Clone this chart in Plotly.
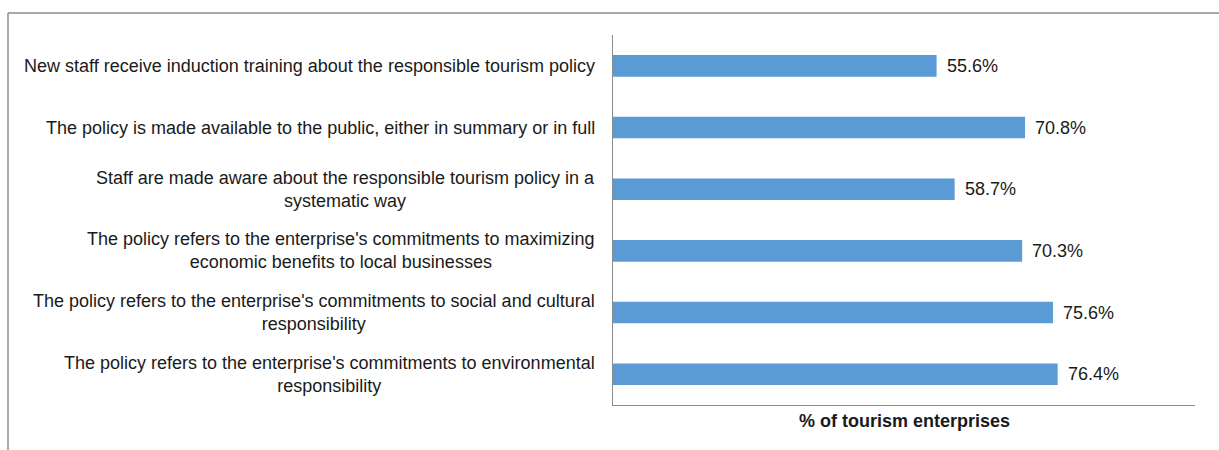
import plotly.graph_objects as go

# Survey statements (top to bottom) and share of enterprises agreeing
categories = [
    "New staff receive induction training about the responsible tourism policy",
    "The policy is made available to the public, either in summary or in full",
    "Staff are made aware about the responsible tourism policy in a<br>systematic way",
    "The policy refers to the enterprise's commitments to maximizing<br>economic benefits to local businesses",
    "The policy refers to the enterprise's commitments to social and cultural<br>responsibility",
    "The policy refers to the enterprise's commitments to environmental<br>responsibility",
]
values = [55.6, 70.8, 58.7, 70.3, 75.6, 76.4]
value_labels = ["55.6%", "70.8%", "58.7%", "70.3%", "75.6%", "76.4%"]
axis_title = "% of tourism enterprises"

W, H = 1219, 450
ML, MR, MT, MB = 613, 24, 35, 45
PW, PH = W - ML - MR, H - MT - MB

FONT = "Liberation Sans, Arial, sans-serif"
BAR = "#5B9BD5"
LINE = "#8C8C8C"

ids = list(range(len(categories)))

fig = go.Figure(
    go.Bar(
        x=values,
        y=ids,
        orientation="h",
        width=0.35,
        marker=dict(color=BAR, line=dict(width=0)),
        hoverinfo="skip",
    )
)

annotations = []
for i, (cat, v, lab) in enumerate(zip(categories, values, value_labels)):
    annotations.append(dict(
        x=0, y=i, xref="x", yref="y", text=cat, showarrow=False,
        xanchor="right", yanchor="middle", align="center", xshift=-16,
        font=dict(family=FONT, size=18, color="#1a1a1a"),
    ))
    annotations.append(dict(
        x=v, y=i, xref="x", yref="y", text=lab, showarrow=False,
        xanchor="left", yanchor="middle", xshift=8,
        font=dict(family=FONT, size=18, color="#1a1a1a"),
    ))

annotations.append(dict(
    x=0.5, y=0, xref="paper", yref="paper", text="<b>" + axis_title + "</b>",
    showarrow=False, xanchor="center", yanchor="middle", yshift=-16,
    font=dict(family=FONT, size=18, color="#1a1a1a"),
))

# outer frame: left and top edges of the chart box
def px_to_paper_x(px):
    return (px - ML) / PW

def py_to_paper_y(py):
    return (H - MB - py) / PH

fx0, fy0 = px_to_paper_x(8), py_to_paper_y(13)
shapes = [
    dict(type="line", xref="paper", yref="paper", x0=fx0, y0=fy0,
         x1=px_to_paper_x(W + 5), y1=fy0, line=dict(color=LINE, width=1.5)),
    dict(type="line", xref="paper", yref="paper", x0=fx0, y0=fy0,
         x1=fx0, y1=py_to_paper_y(H + 5), line=dict(color=LINE, width=1.5)),
]

fig.update_layout(
    width=W, height=H,
    margin=dict(l=ML, r=MR, t=MT, b=MB, pad=0),
    paper_bgcolor="white", plot_bgcolor="white",
    showlegend=False,
    annotations=annotations,
    shapes=shapes,
    xaxis=dict(range=[0, 100], showgrid=False, zeroline=False,
               showticklabels=False, ticks="", showline=True,
               linecolor=LINE, linewidth=1, fixedrange=True),
    yaxis=dict(range=[len(categories) - 0.5, -0.5], showgrid=False,
               zeroline=False, showticklabels=False, ticks="",
               showline=True, linecolor=LINE, linewidth=1, fixedrange=True),
)

fig.write_html("out.html", config={"displayModeBar": False})
